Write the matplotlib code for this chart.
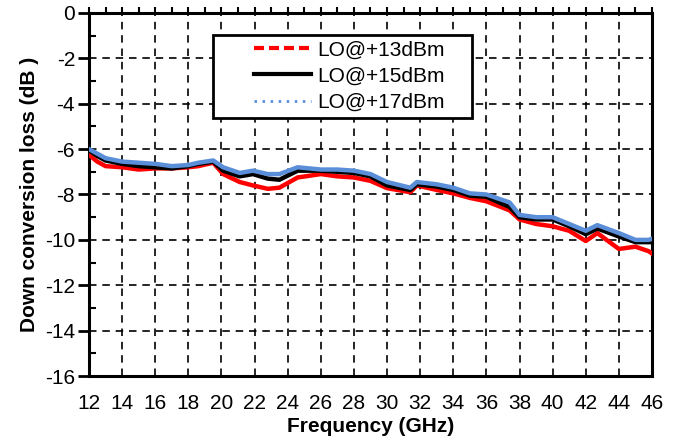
import matplotlib
matplotlib.use("Agg")
import matplotlib.pyplot as plt
from matplotlib.lines import Line2D
from matplotlib.patches import Rectangle
from matplotlib.ticker import MultipleLocator

plt.rcParams['font.family'] = ['Liberation Sans', 'DejaVu Sans']
plt.rcParams['axes.unicode_minus'] = False

# values
freq = [12, 12.5, 13, 14, 15, 16, 17, 18, 18.6, 19.5, 20.1, 21.1, 21.9, 22.8, 23.5,
        24.6, 26, 27, 28, 29, 30, 31.4, 31.8, 33, 34, 35, 36, 37.4, 38, 39, 40, 41,
        42, 42.7, 44, 45, 45.8, 46]
lo13 = [-6.25, -6.55, -6.75, -6.8, -6.9, -6.85, -6.85, -6.8, -6.75, -6.6, -7.1, -7.45,
        -7.6, -7.75, -7.7, -7.25, -7.1, -7.2, -7.25, -7.4, -7.72, -7.9, -7.6, -7.8,
        -7.95, -8.15, -8.3, -8.7, -9.1, -9.3, -9.4, -9.6, -10.05, -9.7, -10.4, -10.3,
        -10.5, -10.6]
lo15 = [-6.05, -6.3, -6.5, -6.65, -6.75, -6.8, -6.85, -6.75, -6.65, -6.55, -6.95, -7.2,
        -7.1, -7.3, -7.35, -6.95, -6.95, -7.0, -7.05, -7.2, -7.6, -7.8, -7.55, -7.65,
        -7.8, -8.05, -8.1, -8.55, -9.0, -9.1, -9.1, -9.4, -9.75, -9.5, -9.85, -10.1,
        -10.1, -10.1]
lo17 = [-6.0, -6.2, -6.4, -6.55, -6.6, -6.65, -6.75, -6.7, -6.6, -6.5, -6.8, -7.05,
        -6.95, -7.1, -7.1, -6.8, -6.9, -6.9, -6.95, -7.1, -7.45, -7.7, -7.45, -7.55,
        -7.7, -7.95, -8.0, -8.35, -8.9, -9.0, -9.0, -9.3, -9.6, -9.35, -9.7, -10.0,
        -10.0, -9.95]
labels = ['LO@+13dBm', 'LO@+15dBm', 'LO@+17dBm']

red = '#ff0000'
blue = '#5b8ed8'

fig = plt.figure(figsize=(6.82, 4.43), dpi=100)
ax = fig.add_axes([0.1305, 0.1512, 0.8255, 0.8195])

ax.plot(freq, lo13, color=red, lw=3.2, zorder=3)
ax.plot(freq, lo15, color='black', lw=3.2, zorder=4)
ax.plot(freq, lo17, color=blue, lw=3.2, zorder=5)

ax.set_xlim(12, 46)
ax.set_ylim(-16, 0)
ax.xaxis.set_major_locator(MultipleLocator(2))
ax.xaxis.set_minor_locator(MultipleLocator(1))
ax.yaxis.set_major_locator(MultipleLocator(2))
ax.yaxis.set_minor_locator(MultipleLocator(1))

ax.grid(True, which='major', color='black', lw=1.2, linestyle=(0, (4.5, 3.5)))

for s in ax.spines.values():
    s.set_linewidth(2.2)

ax.tick_params(axis='x', which='both', bottom=False, top=True, direction='out',
               length=4, width=1.5, labelsize=15, pad=9)
ax.tick_params(axis='y', which='major', left=True, right=False, direction='out',
               length=8, width=2, labelsize=15, pad=2)
ax.tick_params(axis='y', which='minor', left=True, right=False, direction='in',
               length=5, width=1.5)

ax.set_xlabel('Frequency (GHz)', fontsize=15, fontweight='bold', labelpad=3)
ax.set_ylabel('Down conversion loss (dB )', fontsize=15, fontweight='bold', labelpad=4)

# legend: frameless entries inside a hand-placed box
ax.add_patch(Rectangle((0.220, 0.711), 0.460, 0.228, transform=ax.transAxes,
                       facecolor='white', edgecolor='black', lw=2, zorder=6))
handles = [Line2D([], [], color=red, lw=3, linestyle=(0, (2.4, 1.2))),
           Line2D([], [], color='black', lw=3),
           Line2D([], [], color=blue, lw=2, linestyle=(0, (0.9, 2.0)))]
leg = ax.legend(handles, labels, loc='center left', bbox_to_anchor=(0.293, 0.826),
                fontsize=15, frameon=False, handlelength=2.75, borderpad=0,
                labelspacing=0.35, handletextpad=0.3, borderaxespad=0)
leg.set_zorder(7)

fig.savefig('out.png', dpi=100)
